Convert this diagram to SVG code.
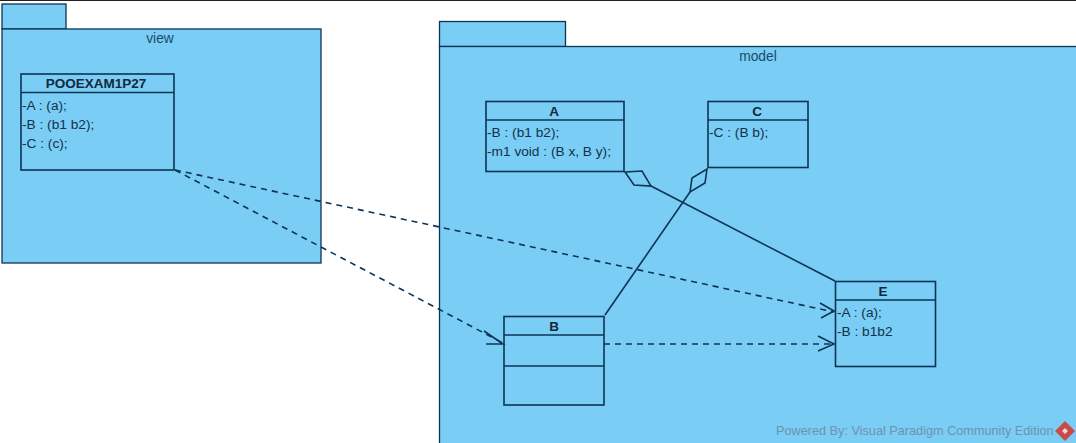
<svg xmlns="http://www.w3.org/2000/svg" width="1076" height="443" viewBox="0 0 1076 443">
<style>
.pkg{fill:#7acdf5;stroke:#0d3454;stroke-width:1.3}
.cls{fill:#7acdf5;stroke:#0d3454;stroke-width:1.6}
.sep{stroke:#0d3454;stroke-width:1.6;fill:none}
.t{font-family:"Liberation Sans",Arial,sans-serif;font-size:13.7px;fill:#12324a}
.n{font-family:"Liberation Sans",Arial,sans-serif;font-size:13.5px;font-weight:bold;fill:#12283c;text-anchor:middle}
.p{font-family:"Liberation Sans",Arial,sans-serif;font-size:13.8px;fill:#1c4a6c;text-anchor:middle}
.c{stroke:#0d3454;stroke-width:1.6;fill:none}
.d{stroke-dasharray:6 5}
.a{stroke:#0d3454;stroke-width:1.6;fill:none}
</style>
<rect width="1076" height="443" fill="#fff"/>
<rect x="0" y="0" width="1076" height="1" fill="#222"/>
<g id="pkg-view">
<rect class="pkg" x="2" y="4" width="64" height="25"/>
<rect class="pkg" x="2" y="29" width="319" height="234"/>
<text class="p" x="160" y="43">view</text>
</g>
<g id="pkg-model">
<rect class="pkg" x="439.500" y="21.500" width="126" height="25"/>
<rect class="pkg" x="439.500" y="46.500" width="640" height="400"/>
<text class="p" x="758" y="61">model</text>
</g>
<g id="POOEXAM1P27">
<rect class="cls" x="21" y="74" width="153" height="96"/>
<path class="sep" d="M21 92.500H174"/>
<text class="n" x="96" y="88">POOEXAM1P27</text>
<text class="t" x="22" y="110">-A : (a);</text>
<text class="t" x="22" y="129">-B : (b1 b2);</text>
<text class="t" x="22" y="148">-C : (c);</text>
</g>
<g id="A">
<rect class="cls" x="486" y="101.500" width="138" height="70"/>
<path class="sep" d="M486 120H624"/>
<text class="n" x="554" y="116">A</text>
<text class="t" x="487" y="137">-B : (b1 b2);</text>
<text class="t" x="487" y="156">-m1 void : (B x, B y);</text>
</g>
<g id="C">
<rect class="cls" x="708" y="101.500" width="100" height="66"/>
<path class="sep" d="M708 120H808"/>
<text class="n" x="757" y="116">C</text>
<text class="t" x="709" y="137">-C : (B b);</text>
</g>
<g id="B">
<rect class="cls" x="504" y="316.500" width="100" height="88.500"/>
<path class="sep" d="M504 335H604M504 366H604"/>
<text class="n" x="554" y="331">B</text>
</g>
<g id="E">
<rect class="cls" x="835.500" y="281.500" width="100" height="85"/>
<path class="sep" d="M835.500 300H935.500"/>
<text class="n" x="883" y="296">E</text>
<text class="t" x="837" y="317">-A : (a);</text>
<text class="t" x="837" y="336">-B : b1b2</text>
</g>
<g id="connectors">
<path class="c d" d="M175 170L834 312"/>
<path class="a" d="M820 303L834 311L821 318"/>
<path class="c d" d="M175 170L503 343"/>
<path class="a" d="M484 331L503 344H486"/>
<path class="c d" d="M604 344H834"/>
<path class="a" d="M818 336L834 344L818 351"/>
<path class="c" d="M651 186L835 281"/>
<path class="a" d="M625 172L642 171L651 186L634 185Z"/>
<path class="c" d="M690 192L605 315"/>
<path class="a" d="M707 169L705 183L690 192L692 178Z"/>
</g>
<g id="watermark">
<text x="776" y="435" font-family="Liberation Sans, Arial, sans-serif" font-size="12.700" fill="#6d93ad">Powered By: Visual Paradigm Community Edition</text>
<path d="M1065 421L1075 431L1065 441L1055 431Z" fill="#c94a4a"/>
<path d="M1065 428L1068 431L1065 434L1062 431Z" fill="#f2d6d6"/>
</g>
</svg>
